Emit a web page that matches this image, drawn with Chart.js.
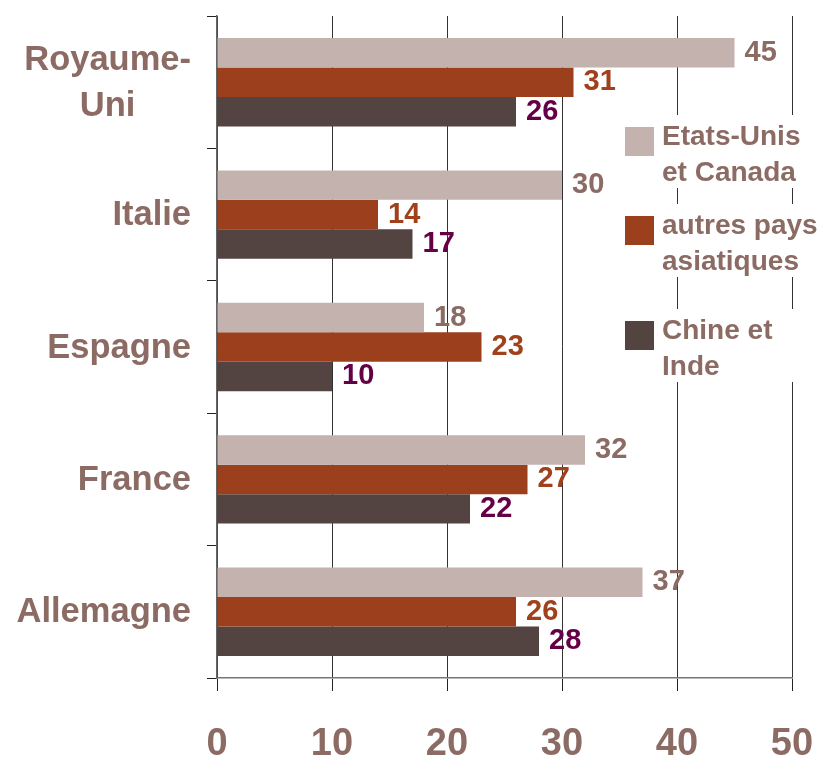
<!DOCTYPE html>
<html><head><meta charset="utf-8">
<script src="https://cdn.jsdelivr.net/npm/chart.js@4"></script>
<style>html,body{margin:0;padding:0;background:#fff}canvas{display:block}</style>
</head><body>
<canvas id="c" width="827" height="759"></canvas>
<script>
const categories = [['Royaume-','Uni'], ['Italie'], ['Espagne'], ['France'], ['Allemagne']];
const seriesNames = [['Etats-Unis','et Canada'], ['autres pays','asiatiques'], ['Chine et','Inde']];
const usCanada = [45, 30, 18, 32, 37];
const otherAsia = [31, 14, 23, 27, 26];
const chinaIndia = [26, 17, 10, 22, 28];
const xTicks = [0, 10, 20, 30, 40, 50];

const FONT = "'Liberation Sans', Arial, sans-serif";
const TEXT = '#8b6b63';
const barColors = ['#c4b2af', '#9c3f1d', '#534341'];
const labelColors = ['#8b6b63', '#a0411c', '#660046'];

const catLabelPlugin = {
  id: 'catLabels',
  afterDraw(chart) {
    const ctx = chart.ctx, ys = chart.scales.y;
    ctx.save();
    ctx.font = 'bold 34.5px ' + FONT;
    ctx.fillStyle = TEXT;
    ctx.textAlign = 'center';
    ctx.textBaseline = 'middle';
    categories.forEach((lines, i) => {
      const cy = ys.getPixelForValue(i);
      const maxW = Math.max(...lines.map(l => ctx.measureText(l).width));
      const cx = 191 - maxW / 2;
      lines.forEach((l, j) => {
        ctx.fillText(l, cx, cy + (j - (lines.length - 1) / 2) * 45.7 + 1);
      });
    });
    ctx.restore();
  }
};

const dataLabelPlugin = {
  id: 'dataLabels',
  afterDatasetsDraw(chart) {
    const ctx = chart.ctx;
    ctx.save();
    ctx.font = 'bold 29px ' + FONT;
    ctx.textAlign = 'left';
    ctx.textBaseline = 'middle';
    chart.data.datasets.forEach((ds, di) => {
      const meta = chart.getDatasetMeta(di);
      ctx.fillStyle = labelColors[di];
      meta.data.forEach((bar, i) => {
        ctx.fillText(String(ds.data[i]), bar.x + 10, bar.y);
      });
    });
    ctx.restore();
  }
};

const legendPlugin = {
  id: 'customLegend',
  afterDraw(chart) {
    const ctx = chart.ctx;
    const tops = [127, 216, 321];
    ctx.save();
    chart.data.datasets.forEach((ds, di) => {
      const t = tops[di];
      ctx.fillStyle = '#ffffff';
      ctx.fillRect(620, t - 12, 207, 73);
      ctx.fillStyle = ds.backgroundColor;
      ctx.fillRect(625, t, 29, 29);
      ctx.fillStyle = TEXT;
      ctx.font = 'bold 28px ' + FONT;
      ctx.textAlign = 'left';
      ctx.textBaseline = 'alphabetic';
      seriesNames[di].forEach((l, j) => ctx.fillText(l, 662, t + 18 + j * 36));
    });
    ctx.restore();
  }
};

new Chart(document.getElementById('c'), {
  type: 'bar',
  data: {
    labels: categories,
    datasets: [
      { label: seriesNames[0].join(' '), data: usCanada, backgroundColor: barColors[0] },
      { label: seriesNames[1].join(' '), data: otherAsia, backgroundColor: barColors[1] },
      { label: seriesNames[2].join(' '), data: chinaIndia, backgroundColor: barColors[2] }
    ]
  },
  options: {
    indexAxis: 'y',
    responsive: false,
    animation: false,
    devicePixelRatio: 1,
    layout: { padding: { top: 16, right: 35, left: 0, bottom: 0 } },
    datasets: { bar: { categoryPercentage: 0.668, barPercentage: 1, borderWidth: 0 } },
    plugins: { legend: { display: false }, tooltip: { enabled: false } },
    scales: {
      x: {
        min: xTicks[0], max: xTicks[xTicks.length - 1],
        afterBuildTicks(s) { s.ticks = xTicks.map(v => ({ value: v })); },
        afterFit(s) { s.height = 81; s.paddingLeft = 0; s.paddingRight = 0; },
        ticks: { font: { family: FONT, size: 38, weight: 'bold' }, color: TEXT, padding: 31, maxRotation: 0 },
        grid: { color: '#333333', lineWidth: 1, tickLength: 13, tickColor: '#222222', drawTicks: true },
        border: { display: true, color: '#777777', width: 1.5 }
      },
      y: {
        afterFit(s) { s.width = 217; s.paddingTop = 0; s.paddingBottom = 0; },
        ticks: { display: false },
        grid: { drawOnChartArea: false, drawTicks: true, tickLength: 10, tickColor: '#222222', offset: true },
        border: { display: true, color: '#666666', width: 1.5 }
      }
    }
  },
  plugins: [catLabelPlugin, dataLabelPlugin, legendPlugin]
});
</script>
</body></html>
